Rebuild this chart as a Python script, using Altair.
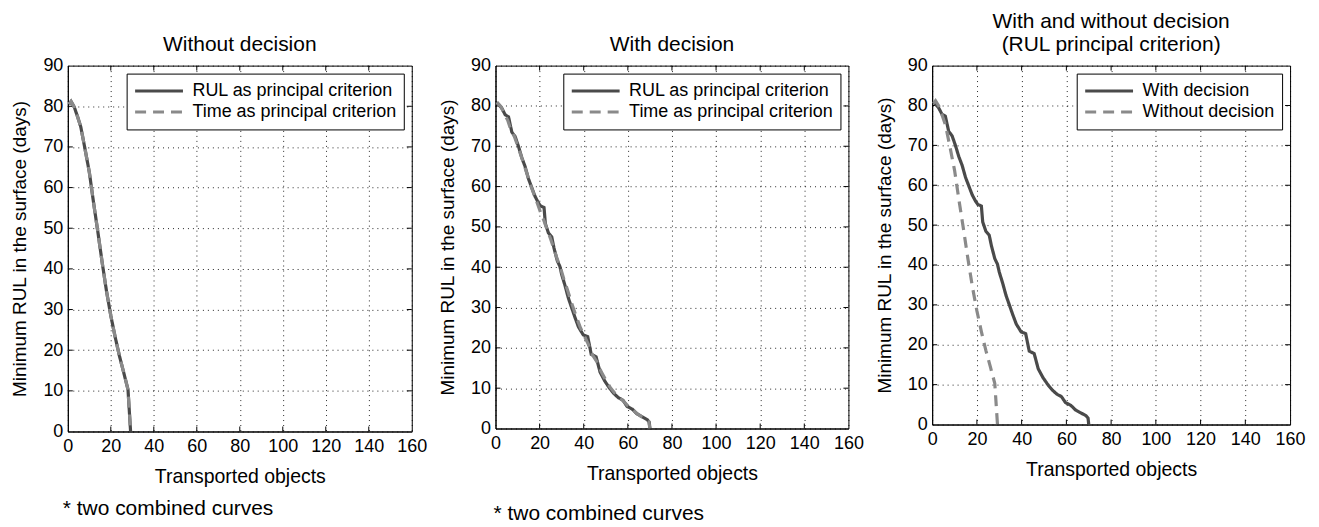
import altair as alt
import pandas as pd

FONT = "Liberation Sans"
DARK = "#4a4a4a"
LIGHT = "#8a8a8a"

# ---------------- data ----------------
# Without decision (RUL and Time criteria give the same curve)
nd_x = [0.5, 1.5, 3, 4.5, 6, 8, 10, 12, 14, 16, 18, 20, 22, 24, 26, 28, 29.2]
nd_rul_y = [80.5, 81.2, 79.8, 77.5, 75.0, 69.5, 63.8, 56.2, 49.0, 41.5, 34.5, 28.5, 23.3, 18.6, 14.5, 10.3, 0]
nd_time_y = [80.5, 81.2, 79.8, 77.5, 75.0, 69.5, 63.8, 56.2, 49.0, 41.5, 34.5, 28.5, 23.3, 18.6, 14.5, 10.3, 0]

# With decision, RUL as principal criterion (stair-like)
wd_x = [0.6, 2.8, 4.4, 5.9, 7.4, 8.9, 10.4, 11.9, 13.4, 14.9, 16.4, 17.9, 19.4, 20.4,
        22.0, 22.6, 24.0, 25.5, 26.5, 28.0, 29.2, 30.0, 31.5, 33.0, 34.5, 36.0, 37.6,
        39.8, 41.8, 43.4, 45.6, 47.4, 49.5, 51.7, 53.8, 55.8, 57.8, 59.6, 62.0, 64.2,
        66.5, 68.8, 69.7, 70.0]
wd_rul_y = [80.9, 79.5, 77.8, 77.3, 73.5, 72.4, 70.0, 67.2, 65.0, 62.0, 59.8, 57.6, 56.0, 55.2,
            54.8, 50.8, 48.5, 47.5, 44.8, 41.6, 40.2, 38.2, 35.5, 32.4, 30.0, 27.6, 25.2,
            23.2, 22.8, 18.4, 17.8, 14.0, 11.8, 10.0, 8.6, 7.6, 7.0, 5.5, 4.8, 3.6,
            2.9, 2.2, 1.6, 0]

# With decision, Time as principal criterion
wt_x = [0.6, 2.5, 4.0, 5.5, 7.0, 8.5, 10.0, 11.5, 13.0, 14.5, 16.0, 17.5, 19.0, 20.5,
        22.0, 23.5, 25.0, 26.5, 28.0, 29.5, 31.0, 32.5, 34.0, 35.5, 37.0, 38.5, 40.0,
        42.0, 44.0, 46.0, 48.0, 50.0, 52.0, 54.0, 56.0, 58.0, 60.0, 62.0, 64.0, 66.0,
        68.0, 69.5, 70.0]
wt_time_y = [80.9, 79.8, 78.0, 76.5, 74.0, 72.5, 70.2, 67.8, 65.3, 62.8, 60.2, 58.0, 55.8, 53.5,
             51.5, 49.2, 47.0, 44.5, 42.0, 39.8, 37.0, 34.6, 32.0, 29.5, 27.2, 25.0, 23.2,
             21.0, 18.2, 16.5, 14.0, 12.0, 10.2, 8.8, 7.8, 6.8, 5.6, 4.8, 3.8, 3.0,
             2.3, 1.7, 0]

crit_names = ["RUL as principal criterion", "Time as principal criterion"]
dec_names = ["With decision", "Without decision"]
x_ticks = [0, 20, 40, 60, 80, 100, 120, 140, 160]
y_ticks = [0, 10, 20, 30, 40, 50, 60, 70, 80, 90]
footnote = "* two combined curves"
TICK = 5  # inward tick length (px)


def frame(pairs):
    rows = []
    for name, xs, ys in pairs:
        for i, (a, b) in enumerate(zip(xs, ys)):
            rows.append({"series": name, "x": a, "y": b, "i": i})
    return pd.DataFrame(rows)


df1 = frame([(crit_names[0], nd_x, nd_rul_y), (crit_names[1], nd_x, nd_time_y)])
df2 = frame([(crit_names[0], wd_x, wd_rul_y), (crit_names[1], wt_x, wt_time_y)])
df3 = frame([(dec_names[0], wd_x, wd_rul_y), (dec_names[1], nd_x, nd_rul_y)])
xt_df = pd.DataFrame({"x": x_ticks[1:-1]})
yt_df = pd.DataFrame({"y": y_ticks[1:-1]})

xscale = alt.Scale(domain=[0, 160], nice=False, zero=False)
yscale = alt.Scale(domain=[0, 90], nice=False, zero=False)

xaxis = alt.Axis(values=x_ticks, grid=True, gridDash=[1, 4], gridColor="#000000", gridOpacity=0.85,
                 ticks=False, tickSize=0, labelFontSize=18, labelFont=FONT, labelColor="black",
                 labelPadding=6, labelFlush=False, labelOverlap=False,
                 title="Transported objects", titleFontSize=19.5, titleFont=FONT,
                 titleFontWeight="normal", titleColor="black", titlePadding=12,
                 domainColor="black", domainWidth=1)
yaxis = alt.Axis(values=y_ticks, grid=True, gridDash=[1, 4], gridColor="#000000", gridOpacity=0.85,
                 ticks=False, tickSize=0, labelFontSize=18, labelFont=FONT, labelColor="black",
                 labelPadding=5, labelFlush=False, labelOverlap=False,
                 title="Minimum RUL in the surface (days)", titleFontSize=19, titleFont=FONT,
                 titleFontWeight="normal", titleColor="black", titlePadding=13,
                 domainColor="black", domainWidth=1)


def make_legend():
    return alt.Legend(title=None, orient="top-right", offset=8, strokeColor="black",
                      fillColor="white", padding=7, symbolType="stroke", symbolSize=2304,
                      symbolStrokeWidth=3, clipHeight=21, rowPadding=0, labelOffset=8,
                      labelFontSize=18, labelFont=FONT, labelColor="black", labelLimit=400,
                      cornerRadius=0)


def inward_ticks(width, height):
    xt = alt.Chart(xt_df)
    yt = alt.Chart(yt_df)
    bottom = xt.mark_rule(color="black", strokeWidth=1).encode(
        x=alt.X("x:Q", scale=xscale, axis=xaxis), y=alt.value(height - TICK), y2=alt.value(height))
    top = xt.mark_rule(color="black", strokeWidth=1).encode(
        x=alt.X("x:Q", scale=xscale, axis=xaxis), y=alt.value(0), y2=alt.value(TICK))
    left = yt.mark_rule(color="black", strokeWidth=1).encode(
        y=alt.Y("y:Q", scale=yscale, axis=yaxis), x=alt.value(0), x2=alt.value(TICK))
    right = yt.mark_rule(color="black", strokeWidth=1).encode(
        y=alt.Y("y:Q", scale=yscale, axis=yaxis), x=alt.value(width - TICK), x2=alt.value(width))
    return [bottom, top, left, right]


def panel(df, names, width, height, title, toffset, note=None):
    leg = make_legend()
    line = alt.Chart(df).mark_line(strokeWidth=3.2, clip=True).encode(
        x=alt.X("x:Q", scale=xscale, axis=xaxis),
        y=alt.Y("y:Q", scale=yscale, axis=yaxis),
        color=alt.Color("series:N", scale=alt.Scale(domain=names, range=[DARK, LIGHT]), legend=leg),
        strokeDash=alt.StrokeDash("series:N", scale=alt.Scale(domain=names, range=[[1, 0], [11, 7]]),
                                  legend=leg),
        order=alt.Order("i:Q"),
    )
    layers = inward_ticks(width, height) + [line]
    if note is not None:
        nx, ny = note
        txt = alt.Chart(pd.DataFrame({"t": [footnote]})).mark_text(
            align="left", baseline="middle", fontSize=21, font=FONT, color="black"
        ).encode(x=alt.value(nx), y=alt.value(ny), text="t:N")
        layers.append(txt)
    return alt.layer(*layers).properties(
        width=width, height=height,
        title=alt.TitleParams(text=title, fontSize=21, font=FONT, fontWeight="normal",
                              color="black", offset=toffset, anchor="middle", lineHeight=23),
    ).resolve_scale(color="shared", strokeDash="shared")


p1 = panel(df1, crit_names, 345, 367, "Without decision", 2, note=(-5, 367 + 78))
p2 = panel(df2, crit_names, 354, 364, "With decision", 2, note=(-2, 364 + 86))
p3 = panel(df3, dec_names, 359, 360, ["With and without decision", "(RUL principal criterion)"], 2)

chart = alt.hconcat(p1, p2, p3, spacing=84, bounds="flush").resolve_scale(
    color="independent", strokeDash="independent"
).resolve_legend(color="independent", strokeDash="independent").configure_view(
    stroke="black", strokeWidth=1
).properties(
    background="white", padding={"left": 2, "top": 1, "right": 5, "bottom": 2}
)

chart.save("out.html", embed_options={"renderer": "svg", "actions": False})
